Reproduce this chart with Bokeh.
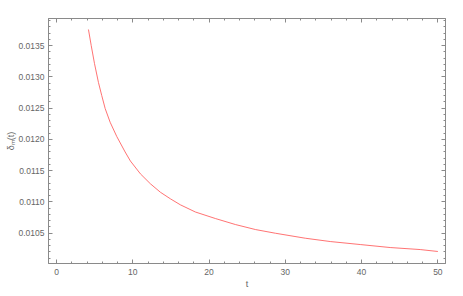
from bokeh.plotting import figure
from bokeh.models import LinearAxis, SingleIntervalTicker, PrintfTickFormatter, Range1d, CustomJSTickFormatter
from bokeh.embed import file_html
from bokeh.resources import INLINE

# values
t_vals = [4.19, 4.55, 4.98, 5.50, 5.93, 6.38, 7.03, 7.90, 9.00, 9.69, 11.0, 12.31, 13.62, 14.93,
          16.24, 18.21, 20.83, 23.45, 26.07, 28.69, 32.62, 35.89, 39.82, 43.75, 47.68, 50.0]
delta_vals = [0.013756, 0.013500, 0.013212, 0.012909, 0.012701, 0.012493, 0.012274, 0.012046,
              0.011798, 0.011654, 0.011449, 0.01129, 0.011155, 0.01105, 0.010954, 0.010839,
              0.010735, 0.010639, 0.010559, 0.0105, 0.01042, 0.010367, 0.010319, 0.010271,
              0.010239, 0.010208]
x_label = "t"
y_label = "δₘ(t)"

FONT = "Liberation Sans"
AX = "#8a8a8a"
LAB = "#666666"

p = figure(width=463, height=296, output_backend="svg", toolbar_location=None,
           x_range=Range1d(-1.05, 51.0), y_range=Range1d(0.010016, 0.013932),
           x_axis_location=None, y_axis_location=None,
           min_border_left=48, min_border_right=18, min_border_top=18, min_border_bottom=33)
p.xgrid.visible = False
p.ygrid.visible = False
p.outline_line_color = AX
p.background_fill_color = "white"
p.border_fill_color = "white"

def style(ax, labels=True):
    ax.axis_line_color = AX
    ax.major_tick_line_color = AX
    ax.minor_tick_line_color = AX
    ax.major_tick_in = 4
    ax.major_tick_out = 0
    ax.minor_tick_in = 2
    ax.minor_tick_out = 0
    if labels:
        ax.major_label_text_font = FONT
        ax.major_label_text_font_size = "8.5px"
        ax.major_label_text_color = LAB
        ax.major_label_standoff = 5
        ax.axis_label_text_font = FONT
        ax.axis_label_text_font_size = "9px"
        ax.axis_label_text_font_style = "normal"
        ax.axis_label_text_color = LAB
    else:
        ax.formatter = CustomJSTickFormatter(code="return ''")
        ax.major_label_standoff = 0

xt = lambda: SingleIntervalTicker(interval=10, num_minor_ticks=5)
yt = lambda: SingleIntervalTicker(interval=0.0005, num_minor_ticks=5)

bx = LinearAxis(ticker=xt(), axis_label=x_label)
style(bx)
bx.axis_label_standoff = 1
ly = LinearAxis(ticker=yt(), axis_label=y_label, formatter=PrintfTickFormatter(format="%.4f"))
style(ly)
ly.major_label_standoff = 4
ly.axis_label_standoff = 0
tx = LinearAxis(ticker=xt())
style(tx, False)
ry = LinearAxis(ticker=yt())
style(ry, False)

p.add_layout(bx, "below")
p.add_layout(ly, "left")
p.add_layout(tx, "above")
p.add_layout(ry, "right")

p.line(t_vals, delta_vals, line_color="#ff5a5a", line_width=1, line_alpha=0.85)

open("out.html", "w").write(file_html(p, INLINE))
